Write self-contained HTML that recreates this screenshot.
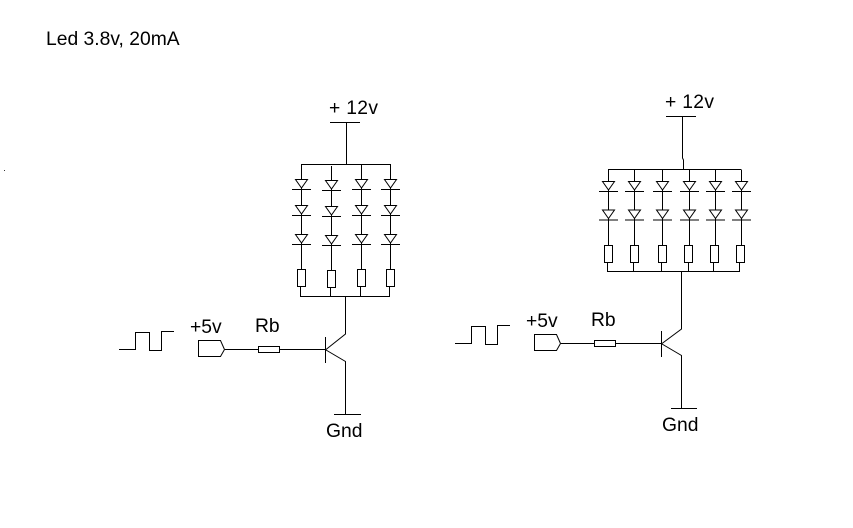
<!DOCTYPE html>
<html>
<head>
<meta charset="utf-8">
<style>
html,body{margin:0;padding:0;background:#fff;width:853px;height:528px;overflow:hidden}
svg{display:block}
text{font-family:"Liberation Sans",Arial,sans-serif;font-size:19.3px;fill:#000}
.l{fill:none;stroke:#000;stroke-width:1}
</style>
</head>
<body>
<svg width="853" height="528" viewBox="0 0 853 528" xmlns="http://www.w3.org/2000/svg">
<defs>
<g id="d"><path d="M-6 1.5H6L0 10Z" fill="#fff" stroke="#000"/><path d="M0 10V11.5M-9.5 11.5H9.5" fill="none" stroke="#000"/></g>
<g id="r"><rect x="-4" y="0" width="8" height="17" fill="#fff" stroke="#000"/></g>
</defs>
<rect width="853" height="528" fill="#fff"/>
<rect x="4" y="170" width="1" height="1" fill="#333"/>

<text x="46" y="45">Led 3.8v, 20mA</text>

<!-- LEFT CIRCUIT -->
<text x="329" y="114" textLength="49">+ 12v</text>
<text x="190" y="333">+5v</text>
<text x="255" y="332">Rb</text>
<text x="326" y="437">Gnd</text>
<g class="l">
<path d="M330 122.5H360M346.5 122.5V164.5M301 164.5H391"/>
<path d="M301.5 164.5V269M331.5 166V270M361.5 164.5V269M390.5 164.5V269"/>
<path d="M300.5 286V296.5M330.5 287V296.5M360.5 286V296.5M389.5 286V296.5M300 296.5H390"/>
<path d="M345.5 296.5V334L326 349.5M326 350L345.5 361.5V414.5M334 414.5H361"/>
<path d="M325.5 337V363"/>
<path d="M119 349.5H135.5V332.5H149.5V350.5H161.5V331.5H174"/>
<path d="M198.5 340.5H220.5L224.5 349.5L220.5 356.5H198.5Z"/>
<path d="M225 349.5H258.5M279.5 349.5H326"/>
<rect x="258.5" y="346.5" width="21" height="6"/>
</g>
<use href="#d" x="301.5" y="178"/><use href="#d" x="301.5" y="204"/><use href="#d" x="301.5" y="233"/>
<use href="#d" x="331.5" y="179"/><use href="#d" x="331.5" y="205"/><use href="#d" x="331.5" y="234"/>
<use href="#d" x="361.5" y="178"/><use href="#d" x="361.5" y="204"/><use href="#d" x="361.5" y="233"/>
<use href="#d" x="390.5" y="178"/><use href="#d" x="390.5" y="204"/><use href="#d" x="390.5" y="233"/>
<use href="#r" x="301.5" y="269.5"/><use href="#r" x="331.5" y="270.5"/><use href="#r" x="361.5" y="269.5"/><use href="#r" x="390.5" y="269.5"/>

<!-- RIGHT CIRCUIT -->
<text x="665" y="108" textLength="49">+ 12v</text>
<text x="526" y="327">+5v</text>
<text x="591" y="326">Rb</text>
<text x="662" y="431">Gnd</text>
<g class="l">
<path d="M666 116.5H696M682.5 116.5V158L683.5 160V169.5M608 169.5H741"/>
<path d="M608.5 169.5V245M634.5 169.5V245M662.5 169.5V245M689.5 169.5V245M715.5 169.5V245M741.5 169.5V245"/>
<path d="M607.5 262V271.5M633.5 262V271.5M661.5 262V271.5M688.5 262V271.5M713.5 262V271.5M739.5 262V271.5M607 271.5H740"/>
<path d="M681.5 271.5V329L662 343.5M662 344L681.5 355.5V408.5M671 408.5H697"/>
<path d="M661.5 331V357"/>
<path d="M455 343.5H471.5V326.5H485.5V344.5H497.5V325.5H510"/>
<path d="M534.5 334.5H556.5L560.5 343.5L556.5 350.5H534.5Z"/>
<path d="M561 343.5H594.5M615.5 343.5H662"/>
<rect x="594.5" y="340.5" width="21" height="6"/>
</g>
<use href="#d" x="608.5" y="180"/><use href="#d" x="608.5" y="208.5"/>
<use href="#d" x="634.5" y="180"/><use href="#d" x="634.5" y="208.5"/>
<use href="#d" x="662.5" y="180"/><use href="#d" x="662.5" y="208.5"/>
<use href="#d" x="689.5" y="180"/><use href="#d" x="689.5" y="208.5"/>
<use href="#d" x="715.5" y="180"/><use href="#d" x="715.5" y="208.5"/>
<use href="#d" x="741.5" y="180"/><use href="#d" x="741.5" y="208.5"/>
<use href="#r" x="608.5" y="245.5"/><use href="#r" x="634.5" y="245.5"/><use href="#r" x="662.5" y="245.5"/><use href="#r" x="688.5" y="245.5"/><use href="#r" x="714.5" y="245.5"/><use href="#r" x="740.5" y="245.5"/>
</svg>
</body>
</html>
